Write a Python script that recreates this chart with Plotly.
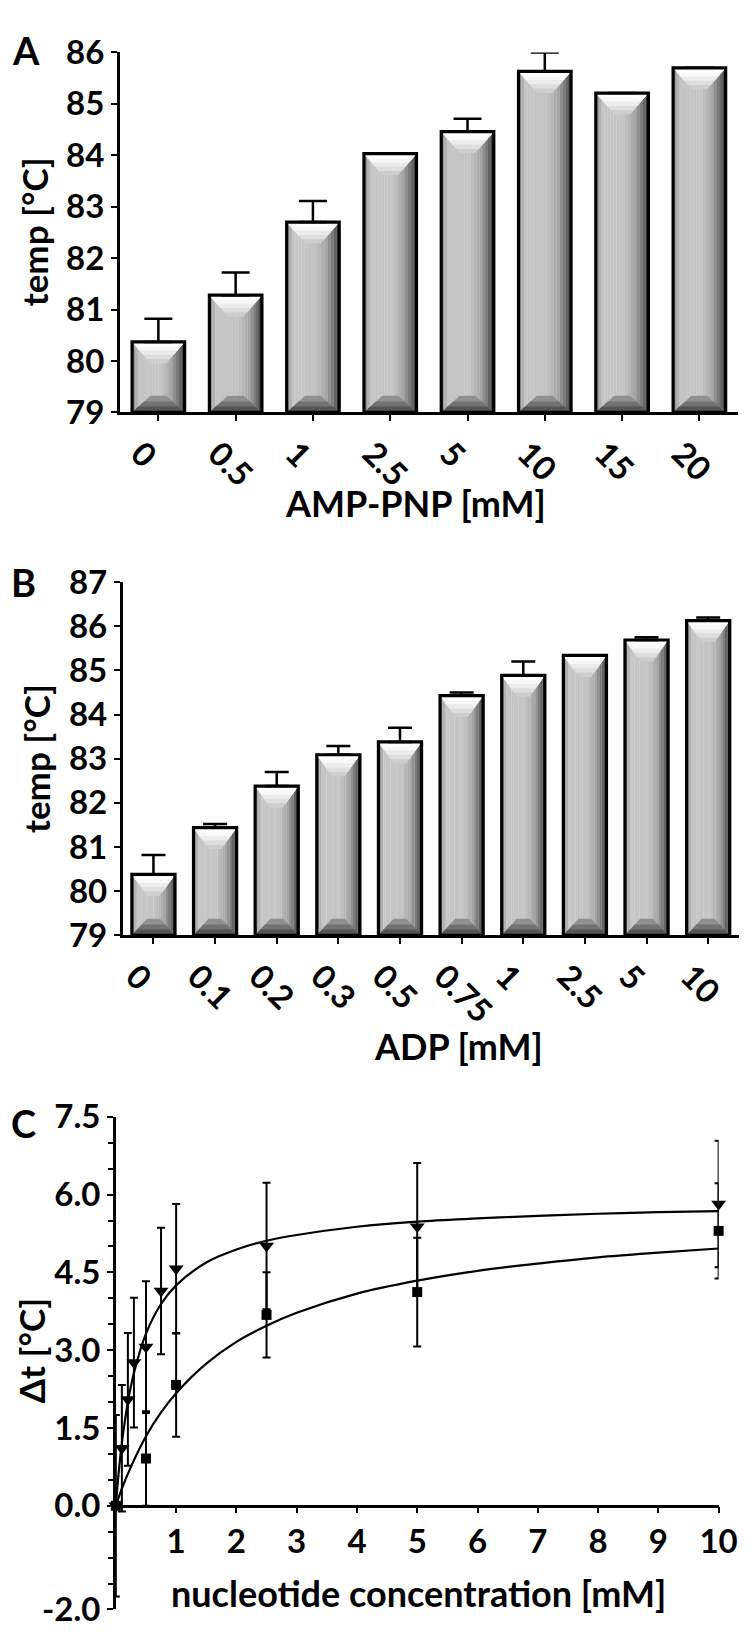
import numpy as np
import plotly.graph_objects as go

W, H = 750, 1639

# ---------------- data ----------------
# Panel A: AMP-PNP
a_cats = ["0", "0.5", "1", "2.5", "5", "10", "15", "20"]
a_vals = [80.37, 81.28, 82.70, 84.03, 84.46, 85.63, 85.21, 85.70]
a_err = [0.45, 0.44, 0.41, 0.0, 0.25, 0.37, 0.0, 0.0]

# Panel B: ADP
b_cats = ["0", "0.1", "0.2", "0.3", "0.5", "0.75", "1", "2.5", "5", "10"]
b_vals = [80.38, 81.44, 82.38, 83.09, 83.38, 84.43, 84.89, 85.34, 85.69, 86.13]
b_err = [0.44, 0.08, 0.32, 0.20, 0.32, 0.07, 0.31, 0.0, 0.06, 0.07]

# Panel C: delta t vs nucleotide concentration
c_tri_x = [0, 0.1, 0.2, 0.3, 0.5, 0.75, 1, 2.5, 5, 10]
c_tri_y = [0, 1.11, 2.05, 2.76, 3.06, 4.14, 4.57, 5.01, 5.38, 5.82]
c_tri_err = [1.75, 1.22, 1.28, 1.25, 1.27, 1.22, 1.25, 1.22, 1.23, 1.22]

c_sq_x = [0, 0.5, 1, 2.5, 5, 10]
c_sq_y = [0, 0.91, 2.33, 3.68, 4.12, 5.30]
c_sq_err = [0, 0.91, 1.0, 0.82, 1.05, 0.92]

# fitted curves
fit_tri_x = [0, 0.05, 0.1, 0.2, 0.3, 0.5, 0.75, 1, 1.5, 2, 2.5, 3, 4, 5, 6, 7, 8, 9, 10]
fit_tri_y = [0, 0.67, 1.21, 2.00, 2.56, 3.32, 3.89, 4.25, 4.69, 4.94, 5.11, 5.22, 5.38,
             5.48, 5.54, 5.59, 5.63, 5.66, 5.68]
fit_sq_x = [0, 0.1, 0.25, 0.5, 0.75, 1, 1.5, 2, 2.5, 3, 4, 5, 6, 7, 8, 9, 10]
fit_sq_y = [0, 0.33, 0.75, 1.34, 1.80, 2.17, 2.74, 3.16, 3.47, 3.72, 4.09, 4.34, 4.53,
            4.67, 4.79, 4.88, 4.96]

c_yticks = [-2, 0, 1.5, 3, 4.5, 6, 7.5]
c_yticktext = ["-2.0", "0.0", "1.5", "3.0", "4.5", "6.0", "7.5"]
c_xticks = [1, 2, 3, 4, 5, 6, 7, 8, 9, 10]

# ---------------- layout geometry ----------------
A_X = [112 / W, 749 / W]
A_Y = [1 - 393 / H, 1 - 24 / H]
B_X = [115 / W, 1.0]
B_Y = [1 - 929 / H, 1 - 567 / H]
C_X = [108 / W, 729 / W]
C_Y = [1 - 1620 / H, 1 - 1115 / H]
A_RANGE = [79, 86]
B_RANGE = [79, 87]
C_RANGE = [-2, 7.5]

FONT = "Lato"
TICK_SIZE = 33
XTITLE_SIZE = 36
YTITLE_SIZE = 35
fig = go.Figure()


def add_bevel_bars(vals, errs, xa, ya, dom_y, yr, bw, cap):
    n = len(vals)
    idx = list(range(n))
    ymin = yr[0]
    px_per_unit = (dom_y[1] - dom_y[0]) * H / (yr[1] - yr[0])
    # horizontal shading stripes
    prof_t = [0.0, 0.05, 0.14, 0.55, 0.75, 0.9, 1.0]
    prof_b = [130, 165, 198, 196, 165, 110, 55]
    N = 18
    for k in range(N):
        t = (k + 0.5) / N
        g = int(np.interp(t, prof_t, prof_b))
        fig.add_trace(go.Bar(
            x=idx, y=[v - ymin for v in vals], base=ymin,
            width=bw / N * 1.08, offset=-bw / 2 + k * bw / N,
            marker=dict(color=f"rgb({g},{g},{g})", line=dict(width=0)),
            xaxis=xa, yaxis=ya, showlegend=False, hoverinfo="skip"))
    # top highlight (chevron)
    d = 22 / px_per_unit
    for frac, col in [(1.0, "#cdcdcd"), (0.8, "#dedede"), (0.6, "#ececec"), (0.4, "#f8f8f8"), (0.22, "#ffffff")]:
        xs, ys = [], []
        for i, v in enumerate(vals):
            bwid = bw * (1 - 0.7 * frac)
            xs += [i - bw / 2, i + bw / 2, i + bwid / 2, i - bwid / 2, i - bw / 2, None]
            ys += [v, v, v - frac * d, v - frac * d, v, None]
        fig.add_trace(go.Scatter(x=xs, y=ys, fill="toself", fillcolor=col, mode="lines",
                                 line=dict(width=0), xaxis=xa, yaxis=ya,
                                 showlegend=False, hoverinfo="skip"))
    # bottom dark bevel
    db = 17 / px_per_unit
    for frac, col in [(1.0, "#909090"), (0.65, "#727272"), (0.35, "#555555")]:
        xs, ys = [], []
        for i, v in enumerate(vals):
            bwid = bw * (1 - 0.7 * frac)
            xs += [i - bw / 2, i + bw / 2, i + bwid / 2, i - bwid / 2, i - bw / 2, None]
            ys += [ymin, ymin, ymin + frac * db, ymin + frac * db, ymin, None]
        fig.add_trace(go.Scatter(x=xs, y=ys, fill="toself", fillcolor=col, mode="lines",
                                 line=dict(width=0), xaxis=xa, yaxis=ya,
                                 showlegend=False, hoverinfo="skip"))
    # outline
    xs, ys = [], []
    for i, v in enumerate(vals):
        xs += [i - bw / 2, i - bw / 2, i + bw / 2, i + bw / 2, i - bw / 2, None]
        ys += [ymin, v, v, ymin, ymin, None]
    fig.add_trace(go.Scatter(x=xs, y=ys, mode="lines", line=dict(color="black", width=3.2),
                             xaxis=xa, yaxis=ya, showlegend=False, hoverinfo="skip"))
    # upper error bars
    fig.add_trace(go.Scatter(
        x=idx, y=vals, mode="markers", marker=dict(size=1, color="rgba(0,0,0,0)"),
        error_y=dict(type="data", array=errs, arrayminus=[0] * n, symmetric=False,
                     color="black", thickness=2.5, width=cap),
        xaxis=xa, yaxis=ya, showlegend=False, hoverinfo="skip"))


add_bevel_bars(a_vals, a_err, "x", "y", A_Y, A_RANGE, 0.68, 14)
add_bevel_bars(b_vals, b_err, "x2", "y2", B_Y, B_RANGE, 0.70, 12)

# ---------------- panel C ----------------
fig.add_trace(go.Scatter(x=fit_tri_x, y=fit_tri_y, mode="lines", line=dict(color="black", width=2.2, shape="spline"),
                         xaxis="x3", yaxis="y3", showlegend=False))
fig.add_trace(go.Scatter(x=fit_sq_x, y=fit_sq_y, mode="lines", line=dict(color="black", width=2.2, shape="spline"),
                         xaxis="x3", yaxis="y3", showlegend=False))
fig.add_trace(go.Scatter(x=c_sq_x, y=c_sq_y, mode="markers",
                         marker=dict(symbol="square", size=10, color="black"),
                         error_y=dict(type="data", array=c_sq_err, color="black", thickness=2, width=4),
                         cliponaxis=False, xaxis="x3", yaxis="y3", showlegend=False))
fig.add_trace(go.Scatter(x=c_tri_x, y=c_tri_y, mode="markers",
                         marker=dict(symbol="triangle-down", size=13, color="black"),
                         error_y=dict(type="data", array=c_tri_err, color="black", thickness=2, width=4),
                         cliponaxis=False, xaxis="x3", yaxis="y3", showlegend=False))

tickfont = dict(family=FONT, size=TICK_SIZE, color="black", weight="bold")
xtitlefont = dict(family=FONT, size=XTITLE_SIZE, color="black", weight="bold")
ytitlefont = dict(family=FONT, size=YTITLE_SIZE, color="black", weight="bold")
letterfont = dict(family=FONT, size=38, color="black", weight="bold")

common = dict(showline=True, linecolor="black", linewidth=2.5, ticks="outside", ticklen=6,
              tickwidth=2, tickcolor="black", showgrid=False, zeroline=False, tickfont=tickfont)

c_zero_pos = C_Y[0] + (0 - C_RANGE[0]) / (C_RANGE[1] - C_RANGE[0]) * (C_Y[1] - C_Y[0])


def label(text, xpx, ypx, font, angle=0):
    return dict(text=text, x=xpx / W, y=1 - ypx / H, xref="paper", yref="paper", showarrow=False,
                xanchor="center", yanchor="middle", textangle=angle, font=font)


fig.update_layout(
    width=W, height=H, margin=dict(l=0, r=0, t=0, b=0),
    paper_bgcolor="white", plot_bgcolor="white", barmode="overlay",
    font=dict(family=FONT, size=TICK_SIZE, color="black", weight="bold"),
    showlegend=False,
    xaxis=dict(domain=A_X, anchor="y", range=[-0.5, len(a_cats) - 0.5],
               tickmode="array", tickvals=list(range(len(a_cats))), ticktext=a_cats,
               tickangle=45, ticklabelshift=-18, **common),
    yaxis=dict(domain=A_Y, anchor="x", range=A_RANGE, dtick=1, **common),
    xaxis2=dict(domain=B_X, anchor="y2", range=[-0.5, len(b_cats) - 0.5],
                tickmode="array", tickvals=list(range(len(b_cats))), ticktext=b_cats,
                tickangle=45, ticklabelshift=-18, **common),
    yaxis2=dict(domain=B_Y, anchor="x2", range=B_RANGE, dtick=1, **common),
    xaxis3=dict(domain=C_X, anchor="free", position=c_zero_pos, range=[0, 10],
                tickmode="array", tickvals=c_xticks, **common),
    yaxis3=dict(domain=C_Y, anchor="x3", range=C_RANGE,
                tickmode="array", tickvals=c_yticks, ticktext=c_yticktext,
                minor=dict(tickmode="array", tickvals=[v / 2 for v in range(-4, 16)],
                           ticks="outside", ticklen=5, tickwidth=1.5, tickcolor="black", showgrid=False),
                **common),
    annotations=[
        label("A", 15, 22, letterfont),
        label("B", 13, 567, letterfont),
        label("C", 13, 1121, letterfont),
        label("AMP-PNP [mM]", 417, 486, xtitlefont),
        label("ADP [mM]", 461, 1042, xtitlefont),
        label("nucleotide concentration [mM]", 420, 1603, xtitlefont),
        label("temp [°C]", 24, 208, ytitlefont, -90),
        label("temp [°C]", 26, 748, ytitlefont, -90),
        label("Δt [°C]", 21, 1354, ytitlefont, -90),
    ],
)

fig.write_html("out.html")
